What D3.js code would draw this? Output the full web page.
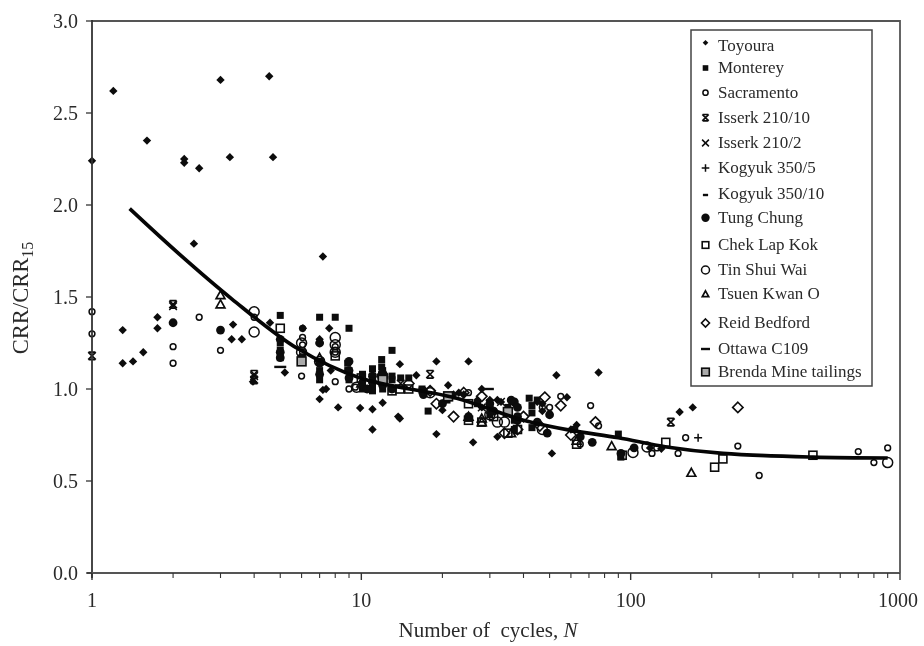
<!DOCTYPE html>
<html><head><meta charset="utf-8">
<script src="https://cdn.jsdelivr.net/npm/d3@7"></script>
<style>html,body{margin:0;padding:0;background:#fff}svg{display:block;filter:blur(.45px)}text{font-family:"Liberation Serif",serif;fill:#2a2a2a}</style>
</head><body><svg id="c" width="924" height="646"></svg>
<script>
const toyoura=[[1,2.24],[1.2,2.62],[1.6,2.35],[2.2,2.25],[2.2,2.23],[2.5,2.2],[3,2.68],[3.25,2.26],[4.55,2.7],[4.7,2.26],[2.39,1.79],[7.2,1.72],
[1.3,1.32],[1.3,1.14],[1.42,1.15],[1.55,1.2],[1.75,1.39],[1.75,1.33],[3.34,1.35],[3.3,1.27],[3.6,1.27],[3.96,1.04],[5.2,1.09],[4.58,1.36],[7.6,1.33],[7,1.25],[7,1.27],[6.07,1.33],[7.7,1.1],[7.2,.995],[7.4,1],[7,.945],[8.2,.9],[9.9,.897],[11,.89],[12,.925],[11,.78],[13.7,.85],[13.9,1.135],[19,1.15],[25,1.15],[16,1.075],[21,1.02],[13.9,.84],[19,.755],[26,.71],[53,1.075],[58,.955],[51,.65],[32,.74],[20,.885],[23,.98],[30,.94],[32,.94],[45,.93],[60,.78],[63,.805],[37,.92],[76,1.09],[152,.875],[170,.9],[130,.675],[118,.68],[28,1],[47,.92],[47,.88],[27,.94],[30,.9],[33,.93],[28,.9],[30,.87],[22,.97],[24,.97]];
const monterey=[[5,1.4],[7,1.39],[8,1.39],[9,1.33],[13,1.21],[5,1.25],[5,1.21],[5,1.17],[7,1.15],[7,1.1],[7,1.05],[9,1.1],[9,1.05],[12,1.1],[11,1.05],[11,1.01],[12,1],[13,1.07],[14,1.06],[15,1.06],[17,.98],[27,.92],[35,.9],[42,.95],[45,.94],[37,.83],[30,.86],[62,.78],[90,.755],[92,.63],[25,.84],[37,.78],[10.1,1.08],[10.1,1.03],[10.1,1],[11,1.11],[11,1.07],[11,1.03],[11,.99],[11.9,1.16],[11.9,1.12],[11.9,1.08],[13,1.05],[13,1],[16.8,.99],[16.8,1],[20.8,.94],[17.7,.88],[8.9,1.14],[8.9,1.1],[43,.91],[43,.87],[43,.79]];
const sacramento=[[1,1.42],[1,1.3],[2,1.23],[2,1.14],[3,1.21],[2.5,1.39],[6,1.07],[9.5,1.01],[9,1],[8,1.04],[4,1.39],[71,.91],[50,.9],[55,.96],[65,.7],[125,.68],[120,.65],[150,.65],[160,.735],[250,.69],[300,.53],[700,.66],[800,.6],[900,.68],[6.05,1.33],[6.05,1.28],[6.05,1.24],[6.05,1.2],[8,1.2],[8,1.23],[25,.98],[47,.9],[76,.8]];
const isserk10=[[1,1.18],[2,1.46],[4,1.08],[4,1.05],[18,1.08],[30,.92],[141,.82]];
const isserk2=[[2,1.45],[4,1.07],[28,.9],[33,.93],[11,1.05],[14,1.03]];
const kogyuk5=[[178,.735],[20,.92],[35,.87],[11,1.08]];
const kogyuk10=[[31,.87],[13,1.05],[22,.95],[45,.83]];
const tungChung=[[2,1.36],[3,1.32],[7,1.25],[7,1.14],[7,1.08],[9,1.15],[9,1.1],[9,1.06],[11,1.07],[11,1.04],[12,1.02],[13,1],[17,.97],[17,.99],[20,.92],[25,.85],[30,.92],[37,.93],[38,.85],[45,.82],[49,.76],[50,.86],[65,.74],[72,.71],[92,.65],[103,.68],[5,1.27],[5,1.2],[5,1.17],[6,1.17],[10.5,1],[31,.88],[36,.94],[38,.9],[38,.83]];
const chekLapKok=[[5,1.33],[10,1.06],[12,1.05],[15,1],[13,.99],[13.9,1],[21,.96],[25,.83],[28,.82],[35,.76],[38,.78],[31,.85],[63,.7],[93,.64],[135,.71],[205,.575],[220,.62],[475,.64],[8,1.18],[25,.92]];
const tinShuiWai=[[4,1.42],[4,1.31],[6,1.25],[8,1.28],[8,1.24],[8,1.2],[6,1.2],[12,1.07],[9.6,1.01],[18,.98],[32,.82],[34,.82],[47,.78],[102,.655],[115,.685],[900,.6],[7,1.15],[30,.86]];
const tsuenKwanO=[[3,1.51],[3,1.46],[28,.82],[25,.85],[36,.76],[85,.69],[168,.545],[63,.72],[7,1.17],[28,.84],[12,1.1],[10,1.03]];
const reidBedford=[[24,.98],[22,.85],[28,.96],[18,.99],[34,.76],[40,.85],[48,.955],[46,.8],[55,.91],[74,.82],[250,.9],[60,.75],[15,1.03],[38,.78],[19,.92]];
const ottawa=[[5,1.12],[29.5,1]];
const brenda=[[6,1.15],[12,1.05],[21,.96],[35,.875]];
const trend=[[1.38,1.98],[2.12,1.73],[3.3,1.49],[5.8,1.22],[9.9,1.06],[22.6,.95],[40,.83],[60,.775],[90,.735],[136,.685],[220,.65],[475,.63],[900,.625]];
const legendLabels=["Toyoura","Monterey","Sacramento","Isserk 210/10","Isserk 210/2","Kogyuk 350/5","Kogyuk 350/10","Tung Chung","Chek Lap Kok","Tin Shui Wai","Tsuen Kwan O","Reid Bedford","Ottawa C109","Brenda Mine tailings"];
const yTicks=[0,.5,1,1.5,2,2.5,3];
const xTicks=[1,10,100,1000];
const xMinor=[2,3,4,5,6,7,8,9,20,30,40,50,60,70,80,90,200,300,400,500,600,700,800,900];

const x=d3.scaleLog().domain([1,1000]).range([92,900]);
const y=d3.scaleLinear().domain([0,3]).range([573,21]);
const svg=d3.select("#c");
const ink="#0c0c0c";

const D=(s,r)=>{
  return g=>{
    if(s==="fdiamond")g.append("path").attr("d",`M0,${-r}L${r},0L0,${r}L${-r},0Z`).attr("fill",ink);
    if(s==="fsquare")g.append("rect").attr("x",-r).attr("y",-r).attr("width",2*r).attr("height",2*r).attr("fill",ink);
    if(s==="ocircle")g.append("circle").attr("r",r).attr("fill","none").attr("stroke",ink).attr("stroke-width",1.5);
    if(s==="fcircle")g.append("circle").attr("r",r).attr("fill",ink);
    if(s==="star")g.append("path").attr("d",`M${-r},${-r}L${r},${r}M${r},${-r}L${-r},${r}M${-r*.9},${-r}H${r*.9}M${-r*.9},${r}H${r*.9}`).attr("stroke",ink).attr("stroke-width",1.7).attr("fill","none");
    if(s==="cross")g.append("path").attr("d",`M${-r},${-r}L${r},${r}M${r},${-r}L${-r},${r}`).attr("stroke",ink).attr("stroke-width",1.5).attr("fill","none");
    if(s==="plus")g.append("path").attr("d",`M${-r},0H${r}M0,${-r}V${r}`).attr("stroke",ink).attr("stroke-width",1.5).attr("fill","none");
    if(s==="dash")g.append("path").attr("d",`M${-r},0H${r}`).attr("stroke",ink).attr("stroke-width",2.4).attr("fill","none");
    if(s==="osquare")g.append("rect").attr("x",-r).attr("y",-r).attr("width",2*r).attr("height",2*r).attr("fill","none").attr("stroke",ink).attr("stroke-width",1.6);
    if(s==="otri")g.append("path").attr("d",`M0,${-r}L${r},${r*.8}L${-r},${r*.8}Z`).attr("fill","none").attr("stroke",ink).attr("stroke-width",1.7);
    if(s==="odiamond")g.append("path").attr("d",`M0,${-r}L${r},0L0,${r}L${-r},0Z`).attr("fill","none").attr("stroke",ink).attr("stroke-width",1.6);
    if(s==="gsquare")g.append("rect").attr("x",-r).attr("y",-r).attr("width",2*r).attr("height",2*r).attr("fill","#aaa").attr("stroke",ink).attr("stroke-width",1.6);
  };
};
const series=[
 {d:toyoura,s:"fdiamond",r:4.2,lr:2.8},
 {d:monterey,s:"fsquare",r:3.5,lr:2.8},
 {d:sacramento,s:"ocircle",r:2.9,lr:2.6},
 {d:isserk10,s:"star",r:3.8,lr:3.2},
 {d:isserk2,s:"cross",r:3.8,lr:3.4},
 {d:kogyuk5,s:"plus",r:4,lr:3.8},
 {d:kogyuk10,s:"dash",r:3,lr:2.6},
 {d:tungChung,s:"fcircle",r:4.4,lr:4.2},
 {d:chekLapKok,s:"osquare",r:4,lr:3.3},
 {d:tinShuiWai,s:"ocircle",r:5,lr:4},
 {d:tsuenKwanO,s:"otri",r:4.4,lr:3.2},
 {d:reidBedford,s:"odiamond",r:5.2,lr:4},
 {d:ottawa,s:"dash",r:6,lr:4.5},
 {d:brenda,s:"gsquare",r:4.4,lr:3.8}
];
const legendRows=[45.7,68,92.7,117.7,143,168,194,217.7,245,270,294,323,349,372];

svg.append("path").attr("d",`M${x(1)},${y(3)}H${x(1000)}V${y(0)}`).attr("fill","none").attr("stroke","#555").attr("stroke-width",1.8);

series.forEach(se=>{
  se.d.forEach(p=>{
    svg.append("g").attr("transform",`translate(${x(p[0])},${y(p[1])})`).call(D(se.s,se.r));
  });
});
svg.append("path").datum(trend).attr("fill","none").attr("stroke","#050505").attr("stroke-width",3.7)
 .attr("d",d3.line().x(d=>x(d[0])).y(d=>y(d[1])).curve(d3.curveCatmullRom.alpha(.5)));

svg.append("line").attr("x1",x(1)).attr("x2",x(1)).attr("y1",y(3)-1).attr("y2",y(0)+5).attr("stroke","#333").attr("stroke-width",1.8);
svg.append("line").attr("x1",x(1)-5).attr("x2",x(1000)).attr("y1",y(0)).attr("y2",y(0)).attr("stroke","#555").attr("stroke-width",1.8);
yTicks.forEach(t=>{
  svg.append("line").attr("x1",x(1)-6).attr("x2",x(1)).attr("y1",y(t)).attr("y2",y(t)).attr("stroke","#333").attr("stroke-width",1.3);
  svg.append("text").attr("x",78).attr("y",y(t)+6.5).attr("text-anchor","end").attr("font-size",20).text(t.toFixed(1));
});
xMinor.forEach(t=>svg.append("line").attr("x1",x(t)).attr("x2",x(t)).attr("y1",y(0)).attr("y2",y(0)+5).attr("stroke","#333").attr("stroke-width",1.1));
xTicks.forEach(t=>{
  svg.append("line").attr("x1",x(t)).attr("x2",x(t)).attr("y1",y(0)).attr("y2",y(0)+7).attr("stroke","#333").attr("stroke-width",1.4);
  svg.append("text").attr("x",x(t)-(t===1000?2:0)).attr("y",607).attr("text-anchor","middle").attr("font-size",20).text(t);
});
const xt=svg.append("text").attr("x",488).attr("y",637).attr("text-anchor","middle").attr("font-size",21).attr("xml:space","preserve");
xt.append("tspan").text("Number of  cycles, ");
xt.append("tspan").attr("font-style","italic").text("N");
const yt=svg.append("text").attr("transform","translate(28,298) rotate(-90)").attr("text-anchor","middle").attr("font-size",22.5);
yt.append("tspan").text("CRR/CRR");
yt.append("tspan").attr("font-size",16).attr("dy",5).text("15");

svg.append("rect").attr("x",691).attr("y",30).attr("width",181).attr("height",356).attr("fill","#fff").attr("stroke","#444").attr("stroke-width",1.5);
series.forEach((se,i)=>{
  svg.append("g").attr("transform",`translate(705.5,${legendRows[i]-(i===0?3:i===6?-1:0)})`).call(D(se.s,se.lr));
  svg.append("text").attr("x",718).attr("y",legendRows[i]+5).attr("font-size",17).text(legendLabels[i]);
});
</script></body></html>
